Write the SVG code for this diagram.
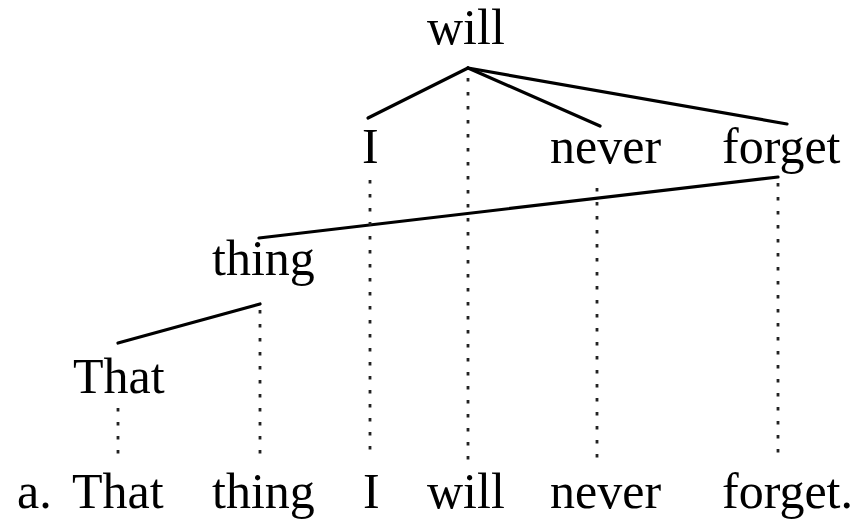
<svg xmlns="http://www.w3.org/2000/svg" width="859" height="520" viewBox="0 0 859 520">
<style>
text { font-family: "Liberation Serif", "Times New Roman", serif; font-size: 50px; fill: #000; }
.edge { stroke: #000; stroke-width: 3.2; stroke-linecap: round; fill: none; }
.proj { stroke: #222; stroke-width: 2.8; stroke-dasharray: 3.5 10.5; fill: none; }
</style>
<rect width="859" height="520" fill="#fff"/>
<g id="connectors">
  <line class="edge" x1="468" y1="68" x2="368" y2="118"/>
  <line class="edge" x1="468" y1="68" x2="600" y2="126"/>
  <line class="edge" x1="468" y1="68" x2="787" y2="124"/>
  <line class="edge" x1="778" y1="177" x2="259" y2="238"/>
  <line class="edge" x1="260" y1="304" x2="118" y2="343"/>
  <line class="proj" x1="118" y1="408" x2="118" y2="460"/>
  <line class="proj" x1="260" y1="310" x2="260" y2="460"/>
  <line class="proj" x1="370" y1="180" x2="370" y2="460"/>
  <line class="proj" x1="468" y1="78" x2="468" y2="460"/>
  <line class="proj" x1="597" y1="188" x2="597" y2="462"/>
  <line class="proj" x1="778" y1="183" x2="778" y2="460"/>
</g>
<g id="node-will"><text x="427" y="44">will</text></g>
<g id="node-I"><text x="362" y="163">I</text></g>
<g id="node-never"><text x="550" y="163">never</text></g>
<g id="node-forget"><text x="722" y="163">forget</text></g>
<g id="node-thing"><text x="212" y="275">thing</text></g>
<g id="node-That"><text x="73" y="393">That</text></g>
<g id="sentence">
  <text x="17" y="508">a.</text>
  <text x="72" y="508">That</text>
  <text x="212" y="508">thing</text>
  <text x="363" y="508">I</text>
  <text x="427" y="508">will</text>
  <text x="550" y="508">never</text>
  <text x="722" y="508">forget.</text>
</g>
</svg>
